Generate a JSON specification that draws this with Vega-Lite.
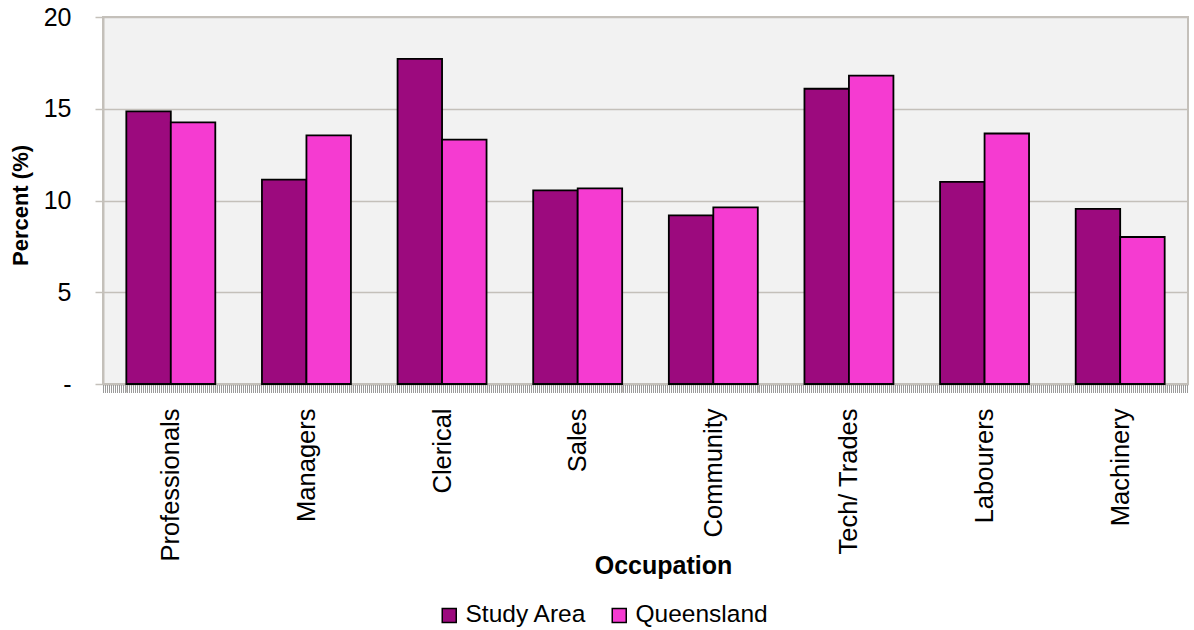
{
  "$schema": "https://vega.github.io/schema/vega-lite/v6.json",
  "width": 1085,
  "height": 367,
  "autosize": "none",
  "padding": {"left": 103, "top": 17, "right": 6, "bottom": 246},
  "background": "#ffffff",
  "config": {
    "font": "Liberation Sans",
    "view": {"fill": "#f2f2f2", "stroke": "#c4c0ba", "strokeWidth": 2}
  },
  "data": {
    "values": [
      {"occupation": "Professionals", "area": "Study Area", "percent": 14.86},
      {"occupation": "Professionals", "area": "Queensland", "percent": 14.26},
      {"occupation": "Managers", "area": "Study Area", "percent": 11.14},
      {"occupation": "Managers", "area": "Queensland", "percent": 13.55},
      {"occupation": "Clerical", "area": "Study Area", "percent": 17.72},
      {"occupation": "Clerical", "area": "Queensland", "percent": 13.32},
      {"occupation": "Sales", "area": "Study Area", "percent": 10.55},
      {"occupation": "Sales", "area": "Queensland", "percent": 10.66},
      {"occupation": "Community", "area": "Study Area", "percent": 9.19},
      {"occupation": "Community", "area": "Queensland", "percent": 9.62},
      {"occupation": "Tech/ Trades", "area": "Study Area", "percent": 16.09},
      {"occupation": "Tech/ Trades", "area": "Queensland", "percent": 16.81},
      {"occupation": "Labourers", "area": "Study Area", "percent": 11.01},
      {"occupation": "Labourers", "area": "Queensland", "percent": 13.65},
      {"occupation": "Machinery", "area": "Study Area", "percent": 9.54},
      {"occupation": "Machinery", "area": "Queensland", "percent": 8.01}
    ]
  },
  "layer": [
    {
      "mark": {"type": "bar", "stroke": "#000000", "strokeWidth": 1.8},
      "encoding": {
        "x": {
          "field": "occupation",
          "type": "nominal",
          "sort": ["Professionals", "Managers", "Clerical", "Sales", "Community", "Tech/ Trades", "Labourers", "Machinery"],
          "scale": {"paddingInner": 0.344, "paddingOuter": 0.172},
          "axis": {
            "title": "Occupation",
            "titleFontSize": 25,
            "titleFontWeight": "bold",
            "titleColor": "#000000",
            "titleBaseline": "alphabetic",
            "titleX": 560,
            "titleY": 189,
            "labelAngle": -90,
            "labelFontSize": 25.5,
            "labelColor": "#000000",
            "labelPadding": 16,
            "labelLimit": 300,
            "tickBand": "extent",
            "ticks": true,
            "tickSize": 8,
            "tickColor": "#c4c0ba",
            "tickWidth": 1.5,
            "domainColor": "#c4c0ba",
            "domainWidth": 2,
            "grid": false
          }
        },
        "xOffset": {
          "field": "area",
          "type": "nominal",
          "sort": ["Study Area", "Queensland"],
          "scale": {"paddingInner": 0, "paddingOuter": 0}
        },
        "y": {
          "field": "percent",
          "type": "quantitative",
          "scale": {"domain": [0, 20], "nice": false},
          "axis": {
            "title": "Percent (%)",
            "titleFontSize": 22,
            "titleFontWeight": "bold",
            "titleColor": "#000000",
            "titleAngle": -90,
            "titleBaseline": "middle",
            "titleAlign": "center",
            "titleX": -83,
            "titleY": 188,
            "values": [0, 5, 10, 15, 20],
            "labelExpr": "datum.value == 0 ? '-\u00a0\u00a0\u00a0' : datum.label",
            "labelFontSize": 25,
            "labelColor": "#000000",
            "labelPadding": 24,
            "tickSize": 8,
            "tickColor": "#c4c0ba",
            "tickWidth": 1.5,
            "domainColor": "#c4c0ba",
            "domainWidth": 2,
            "grid": true,
            "gridColor": "#c4c0ba",
            "gridWidth": 1.5
          }
        },
        "color": {
          "field": "area",
          "type": "nominal",
          "scale": {"domain": ["Study Area", "Queensland"], "range": ["#9c0a7e", "#f53bd1"]},
          "legend": {
            "title": null,
            "orient": "none",
            "direction": "horizontal",
            "legendX": 334,
            "legendY": 586,
            "padding": 0,
            "symbolType": "square",
            "symbolSize": 196,
            "symbolStrokeColor": "#000000",
            "symbolStrokeWidth": 1.5,
            "symbolOpacity": 1,
            "labelFontSize": 24.5,
            "labelColor": "#000000",
            "labelOffset": 4,
            "columnPadding": 20
          }
        }
      }
    },
    {
      "mark": {"type": "rule", "color": "#9a9a9a", "strokeWidth": 7, "strokeDash": [1, 1], "opacity": 0.4, "yOffset": 5},
      "encoding": {
        "y": {"datum": 0, "type": "quantitative"}
      }
    }
  ]
}
